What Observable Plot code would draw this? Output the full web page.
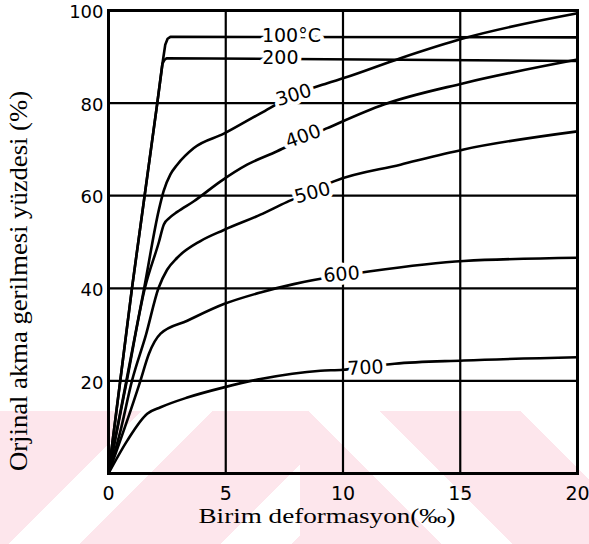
<!DOCTYPE html>
<html><head><meta charset="utf-8">
<script src="https://cdn.jsdelivr.net/npm/d3@7"></script>
<script src="https://cdn.jsdelivr.net/npm/@observablehq/plot@0.6"></script>
<style>
html,body{margin:0;padding:0;background:#fff;}
#wrap{position:relative;width:589px;height:544px;overflow:hidden;}
.wm{position:absolute;top:411px;height:133px;}
#wmL{left:0;width:300px;background:repeating-linear-gradient(135deg,#fde6ec 0 100px,#ffffff 100px 150px);}
#wmR{left:300px;width:289px;background:repeating-linear-gradient(45deg,#fde6ec 0 100px,#ffffff 100px 150px);}
#chart{position:absolute;left:0;top:0;}
</style></head><body>
<div id="wrap"><div class="wm" id="wmL"></div><div class="wm" id="wmR"></div><div id="chart"></div></div>
<script>
const xTicks = [0, 5, 10, 15, 20];
const yTicks = [20, 40, 60, 80, 100];
const xGrid = [5, 10, 15];
const yGrid = [20, 40, 60, 80];
const xTitle = "Birim deformasyon(‰)";
const yTitle = "Orjinal akma gerilmesi yüzdesi (%)";

// curves (strain ‰, % of original yield stress)
const c100x = [0, 1.0, 2.08, 2.30, 2.42, 2.52, 2.64, 20];
const c100y = [0, 40, 80, 88.5, 92.6, 93.9, 94.3, 94.2];
const c200x = [0, 1.0, 2.08, 2.30, 2.38, 2.48, 20];
const c200y = [0, 40, 80, 88.5, 89.3, 89.7, 89.1];
const c300x = [0, 0.76, 1.52, 2.15, 2.35, 2.64, 2.93, 3.64, 4.92, 6.48, 7.9, 9.33, 10.03, 12.45, 15.15, 20];
const c300y = [0, 20, 40, 57, 61, 64.6, 66.7, 70.3, 73.4, 77.8, 81.7, 84.3, 85.4, 89.7, 94.0, 99.4];
const c400x = [0, 0.78, 1.55, 2.15, 2.36, 2.6, 2.93, 3.64, 4.78, 5.91, 7.19, 8.3, 9.33, 11.74, 15.15, 20];
const c400y = [0, 20, 40, 50, 53.8, 55.2, 56.5, 58.8, 63.1, 66.7, 69.6, 72.3, 74.6, 79.7, 84.3, 89.4];
const c500x = [0, 0.5, 1.0, 1.6, 2.13, 2.5, 2.93, 3.92, 4.92, 6.48, 7.6, 8.7, 9.61, 12.45, 15.15, 20];
const c500y = [0, 9, 20, 30, 40, 44, 46.6, 50.2, 52.6, 55.9, 58.6, 61.0, 63.1, 66.7, 70.0, 73.9];
const c600x = [0, 0.7, 1.36, 1.72, 2.22, 3.36, 4.92, 6.48, 7.9, 9.94, 11.17, 15.15, 20];
const c600y = [0, 10, 20, 25.8, 30.2, 33.0, 36.6, 39.1, 40.9, 42.8, 43.7, 45.9, 46.6];
const c700x = [0, 0.8, 1.65, 2.22, 3.36, 4.92, 6.48, 9.04, 10.0, 10.96, 12.2, 15.15, 20];
const c700y = [0, 7.1, 12.9, 14.3, 16.4, 18.6, 20.4, 22.2, 22.4, 23.0, 23.7, 24.4, 25.1];

const labelText = ["100°C", "200", "300", "400", "500", "600", "700"];
const labelX = [7.8, 7.33, 7.9, 8.3, 8.7, 9.94, 10.96];
const labelY = [94.5, 89.8, 81.7, 72.8, 60.6, 43.0, 22.8];
const labelRot = [0, 0, -17, -20, -15, -5, -3];

const toRows = (xs, ys) => xs.map((x, i) => ({x, y: ys[i]}));
const sharp = [toRows(c100x, c100y), toRows(c200x, c200y)];
const smooth = [toRows(c300x, c300y), toRows(c400x, c400y), toRows(c500x, c500y),
                toRows(c600x, c600y), toRows(c700x, c700y)];
const labels = labelText.map((t, i) => ({t, x: labelX[i], y: labelY[i], r: labelRot[i]}));

const hand = "DejaVu Sans";
const chart = Plot.plot({
  width: 589, height: 544,
  marginLeft: 108, marginRight: 12, marginTop: 10, marginBottom: 71,
  style: {background: "transparent", overflow: "visible"},
  x: {domain: [0, 20]},
  y: {domain: [0, 100]},
  marks: [
    Plot.ruleY(yGrid, {stroke: "black", strokeWidth: 2.2}),
    Plot.ruleX(xGrid, {stroke: "black", strokeWidth: 2.2}),
    ...sharp.map(d => Plot.line(d, {x: "x", y: "y", stroke: "black", strokeWidth: 2.6, curve: "linear"})),
    ...smooth.map(d => Plot.line(d, {x: "x", y: "y", stroke: "black", strokeWidth: 2.6, curve: "monotone-x"})),
    Plot.frame({stroke: "black", strokeWidth: 3}),
    Plot.text(labels, {x: "x", y: "y", text: "t", rotate: "r", fill: "black",
      stroke: "white", strokeWidth: 8, fontFamily: hand, fontSize: 19}),
    Plot.axisX(xTicks, {tickSize: 0, tickPadding: 13, fontSize: 19, fontFamily: hand, label: null}),
    Plot.axisY(yTicks, {tickSize: 0, tickPadding: 5, dy: 2, fontSize: 18, fontFamily: hand, label: null}),
    Plot.text([xTitle], {frameAnchor: "bottom", dy: 49, dx: -16, fontFamily: "Liberation Serif", fontSize: 20, fill: "black"}),
    Plot.text([yTitle], {frameAnchor: "left", textAnchor: "middle", rotate: -90, dx: -90, dy: 39,
      fontFamily: "Liberation Serif", fontSize: 25, fill: "black"})
  ]
});
document.getElementById("chart").appendChild(chart);
const sel = d3.select(chart).selectAll("text");
sel.filter(function(){ return this.textContent === xTitle; })
  .attr("textLength", 257).attr("lengthAdjust", "spacingAndGlyphs");
sel.filter(function(){ return this.textContent === yTitle; })
  .attr("textLength", 380).attr("lengthAdjust", "spacingAndGlyphs");
</script>
</body></html>
